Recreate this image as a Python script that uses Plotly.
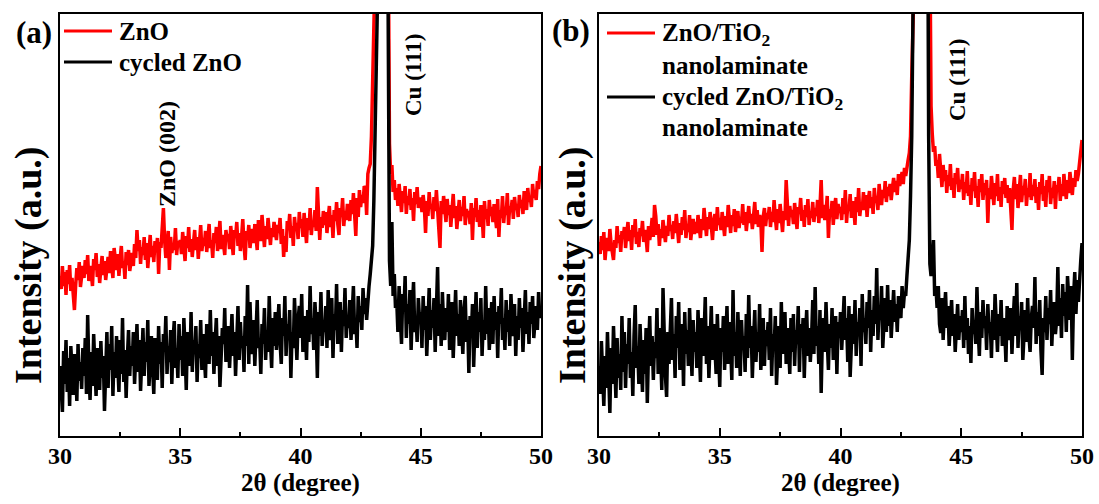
import numpy as np
import plotly.graph_objects as go

W, H = 1099, 504

# 2-theta grid (0.05 degree steps, 30-50)
theta = np.round(30 + 0.05 * np.arange(401), 2)

# Intensities (arbitrary units), one row per degree
zno = [
    160, 147, 170, 150, 164, 141, 166, 152, 171, 145, 158, 139, 126, 150, 168, 156, 174, 149, 163, 170,
    158, 176, 162, 181, 155, 170, 164, 150, 177, 166, 183, 159, 172, 153, 168, 180, 161, 175, 156, 171,
    179, 163, 185, 170, 158, 188, 174, 166, 182, 160, 177, 190, 168, 175, 157, 184, 171, 186, 165, 178,
    183, 170, 192, 178, 206, 185, 196, 172, 189, 181, 199, 176, 193, 168, 186, 201, 179, 190, 174, 195,
    184, 198, 162, 194, 188, 203, 228, 196, 178, 190, 205, 166, 199, 183, 192, 186, 208, 181, 195, 189,
    196, 182, 204, 190, 175, 200, 188, 209, 184, 197, 179, 193, 206, 186, 199, 177, 192, 211, 185, 198,
    190, 205, 184, 199, 212, 188, 196, 178, 203, 193, 209, 185, 198, 215, 187, 201, 192, 181, 206, 195,
    202, 187, 210, 195, 181, 206, 198, 214, 190, 203, 185, 199, 217, 192, 176, 205, 196, 211, 188, 200,
    207, 193, 212, 199, 186, 216, 204, 195, 221, 200, 189, 210, 197, 218, 203, 191, 208, 199, 214, 202,
    196, 211, 203, 218, 192, 207, 179, 200, 184, 215, 206, 222, 198, 210, 190, 219, 205, 213, 197, 224,
    208, 217, 199, 223, 212, 193, 218, 206, 228, 201, 215, 209, 226, 205, 249, 213, 196, 219, 208, 225,
    211, 224, 203, 218, 230, 209, 221, 198, 226, 215, 234, 212, 201, 228, 219, 238, 210, 225, 216, 232,
    224, 215, 236, 222, 243, 227, 200, 238, 219, 246, 229, 241, 233, 250, 247, 221, 262, 268, 272, 300,
    420, 650, 900, 900, 900, 900, 900, 900, 900, 900, 900, 900, 700, 430, 292, 262, 271, 244, 256, 236,
    248, 230, 252, 238, 224, 245, 233, 250, 222, 240, 231, 247, 226, 238, 215, 244, 232, 249, 228, 236,
    238, 224, 241, 229, 203, 235, 220, 244, 227, 232, 217, 239, 225, 246, 230, 214, 188, 235, 222, 240,
    228, 214, 237, 221, 231, 209, 226, 242, 218, 230, 207, 224, 236, 215, 229, 220, 240, 211, 227, 219,
    225, 212, 233, 196, 228, 219, 238, 214, 226, 209, 231, 222, 198, 235, 217, 227, 210, 236, 220, 229,
    214, 232, 222, 208, 237, 199, 226, 218, 240, 213, 229, 221, 243, 211, 230, 224, 236, 217, 239, 226,
    232, 219, 241, 228, 236, 222, 245, 231, 226, 248, 234, 240, 229, 252, 238, 246, 236, 255, 247, 262,
    270,
]

cycled_zno = [
    70, 38, 24, 85, 52, 96, 44, 78, 30, 90, 58, 41, 82, 66, 35, 92, 55, 74, 47, 88,
    60, 98, 42, 121, 68, 36, 84, 50, 102, 62, 40, 88, 74, 46, 95, 58, 80, 25, 70, 104,
    48, 92, 66, 110, 40, 84, 58, 100, 72, 44, 96, 62, 118, 54, 86, 38, 78, 106, 60, 90,
    70, 104, 52, 88, 112, 64, 96, 45, 82, 108, 60, 94, 74, 116, 50, 86, 100, 68, 42, 98,
    80, 56, 110, 72, 94, 48, 102, 84, 120, 62, 90, 74, 106, 52, 96, 115, 68, 88, 58, 112,
    76, 100, 60, 118, 86, 46, 104, 90, 70, 124, 64, 96, 82, 110, 54, 92, 78, 116, 66, 102,
    84, 58, 112, 96, 72, 126, 80, 104, 62, 94, 118, 70, 100, 49, 86, 108, 92, 128, 74, 98,
    110, 68, 96, 122, 80, 104, 60, 92, 130, 76, 114, 88, 100, 64, 120, 90, 151, 72, 134, 94,
    82, 116, 70, 104, 136, 88, 98, 62, 112, 92, 128, 76, 106, 84, 140, 96, 68, 118, 90, 124,
    86, 110, 132, 94, 72, 118, 100, 140, 80, 112, 96, 126, 58, 104, 88, 138, 102, 76, 116, 130,
    98, 142, 84, 120, 108, 76, 126, 94, 150, 102, 118, 86, 134, 112, 58, 124, 100, 144, 90, 116,
    104, 130, 88, 146, 112, 96, 138, 78, 122, 106, 152, 92, 118, 134, 84, 126, 110, 148, 98, 120,
    108, 136, 96, 124, 150, 102, 118, 88, 140, 114, 130, 106, 148, 122, 138, 116, 142, 150, 162, 175,
    190, 235, 330, 560, 900, 900, 900, 900, 900, 900, 900, 900, 620, 360, 175, 150, 214, 140, 162, 128,
    136, 104, 150, 118, 92, 142, 124, 160, 98, 132, 112, 146, 86, 128, 154, 104, 120, 94, 138, 116,
    124, 88, 140, 106, 130, 80, 118, 148, 96, 126, 108, 138, 84, 120, 169, 100, 132, 90, 144, 112,
    96, 128, 104, 142, 86, 118, 134, 78, 112, 146, 100, 122, 90, 136, 108, 82, 126, 140, 94, 116,
    63, 120, 98, 132, 69, 110, 144, 88, 124, 104, 138, 80, 116, 96, 150, 102, 128, 86, 118, 134,
    92, 140, 106, 124, 78, 130, 112, 148, 96, 118, 86, 136, 104, 126, 90, 142, 114, 100, 132, 80,
    120, 96, 138, 108, 128, 84, 116, 146, 102, 124, 92, 134, 112, 140, 98, 122, 130, 106, 144, 118,
    126,
]

nanolaminate = [
    194, 182, 200, 186, 204, 176, 191, 198, 185, 207, 192, 180, 176, 196, 188, 210, 193, 201, 184, 205,
    197, 209, 188, 203, 214, 195, 206, 186, 211, 199, 217, 192, 204, 189, 208, 200, 215, 194, 206, 198,
    184, 210, 196, 205, 218, 199, 231, 220, 201, 212, 190, 207, 198, 216, 203, 194, 210, 200, 221, 205,
    211, 197, 215, 203, 222, 208, 193, 213, 201, 219, 206, 226, 198, 212, 204, 221, 196, 209, 217, 202,
    214, 203, 221, 209, 198, 217, 206, 228, 212, 200, 219, 207, 224, 210, 196, 215, 222, 205, 229, 211,
    218, 206, 224, 212, 200, 220, 209, 231, 215, 203, 221, 210, 227, 204, 217, 225, 208, 219, 213, 232,
    211, 224, 205, 220, 230, 213, 222, 207, 218, 234, 212, 226, 209, 221, 215, 184, 219, 228, 210, 223,
    217, 229, 209, 224, 214, 236, 219, 206, 227, 213, 232, 218, 204, 225, 216, 256, 221, 210, 230, 219,
    226, 212, 233, 218, 207, 229, 222, 238, 215, 226, 209, 231, 219, 237, 211, 224, 218, 234, 214, 228,
    220, 236, 213, 229, 256, 218, 231, 216, 224, 240, 198, 227, 219, 235, 211, 229, 238, 217, 232, 223,
    229, 216, 238, 222, 246, 213, 231, 225, 242, 218, 235, 228, 211, 239, 224, 248, 220, 233, 226, 244,
    226, 241, 219, 236, 245, 228, 239, 222, 248, 233, 240, 226, 252, 237, 231, 246, 238, 255, 234, 249,
    240, 252, 236, 248, 258, 244, 255, 241, 262, 250, 257, 264, 252, 268, 260, 272, 276, 283, 300, 360,
    500, 750, 900, 900, 900, 900, 900, 900, 900, 900, 900, 900, 900, 760, 500, 330, 302, 284, 290, 270,
    276, 258, 282, 262, 249, 271, 255, 266, 243, 261, 250, 272, 246, 258, 238, 263, 252, 268, 244, 256,
    247, 262, 236, 254, 243, 265, 240, 251, 231, 258, 245, 264, 238, 250, 229, 257, 244, 262, 236, 253,
    241, 256, 213, 248, 237, 260, 244, 231, 253, 240, 262, 235, 249, 229, 255, 242, 258, 238, 251, 233,
    248, 232, 206, 246, 259, 237, 252, 228, 245, 261, 234, 250, 241, 257, 230, 248, 239, 263, 236, 251,
    240, 257, 233, 249, 226, 254, 242, 262, 235, 250, 229, 256, 244, 260, 232, 248, 238, 255, 227, 251,
    246, 259, 235, 252, 240, 262, 248, 237, 256, 243, 264, 250, 241, 258, 249, 266, 255, 262, 272, 285,
    296,
]

cycled_nanolaminate = [
    70, 42, 95, 56, 30, 80, 48, 104, 62, 23, 88, 52, 110, 66, 38, 98, 58, 82, 46, 120,
    64, 104, 48, 92, 72, 118, 58, 84, 40, 100, 131, 68, 90, 52, 112, 76, 44, 96, 62, 108,
    33, 86, 120, 70, 100, 56, 94, 78, 128, 62, 108, 84, 46, 148, 90, 60, 39, 104, 72, 116,
    138, 76, 102, 58, 120, 88, 134, 66, 96, 112, 50, 124, 82, 106, 70, 128, 92, 60, 116, 84,
    104, 68, 126, 90, 54, 118, 80, 100, 139, 72, 110, 58, 96, 130, 76, 112, 88, 62, 122, 94,
    49, 108, 84, 120, 66, 98, 130, 72, 114, 90, 56, 146, 80, 104, 68, 124, 92, 60, 116, 86,
    100, 64, 122, 78, 141, 88, 110, 58, 96, 126, 74, 104, 84, 132, 66, 98, 118, 70, 106, 90,
    114, 76, 128, 60, 102, 86, 120, 51, 94, 110, 68, 134, 82, 100, 124, 72, 108, 90, 62, 118,
    84, 122, 70, 106, 92, 130, 64, 112, 88, 118, 58, 100, 126, 80, 108, 74, 96, 136, 82, 149,
    90, 110, 72, 126, 43, 100, 118, 84, 134, 96, 66, 112, 88, 128, 76, 104, 120, 62, 114, 98,
    124, 86, 110, 140, 96, 118, 74, 130, 59, 106, 122, 92, 136, 80, 114, 100, 128, 70, 142, 104,
    118, 92, 134, 108, 146, 84, 126, 100, 140, 112, 168, 96, 130, 116, 150, 88, 124, 138, 104, 151,
    110, 136, 98, 128, 146, 114, 132, 104, 140, 122, 118, 150, 128, 144, 140, 160, 175, 196, 240, 300,
    420, 650, 900, 900, 900, 900, 900, 900, 900, 900, 900, 900, 520, 300, 172, 160, 176, 196, 140, 150,
    128, 150, 112, 103, 138, 96, 124, 144, 108, 130, 90, 118, 136, 100, 122, 84, 112, 132, 96, 120,
    104, 126, 88, 140, 96, 118, 82, 110, 73, 128, 102, 116, 92, 149, 106, 80, 124, 98, 136, 108,
    120, 86, 132, 104, 114, 78, 126, 96, 142, 110, 84, 122, 100, 136, 90, 118, 106, 74, 130, 112,
    96, 128, 82, 116, 140, 100, 153, 88, 120, 106, 134, 76, 112, 126, 94, 138, 102, 84, 118, 130,
    108, 159, 92, 124, 100, 136, 86, 61, 118, 104, 140, 96, 128, 112, 146, 90, 122, 134, 102, 116,
    169, 110, 138, 98, 152, 120, 144, 104, 160, 126, 116, 150, 76, 138, 164, 122, 156, 134, 162, 176,
    193,
]

for s in (zno, cycled_zno, nanolaminate, cycled_nanolaminate):
    assert len(s) == len(theta), len(s)

x_ticks = [30, 35, 40, 45, 50]
x_minor = [32.5, 37.5, 42.5, 47.5]

RED = "#ff0000"
BLACK = "#000000"
FONT = "Liberation Serif"
LW = 3.5


def fx(p):
    return p / W


def fy(p):
    return 1 - p / H


def bold(size):
    return dict(family=FONT, size=size, color=BLACK, weight="bold")


fig = go.Figure()
fig.add_trace(go.Scatter(x=theta, y=zno, mode="lines", name="ZnO",
                         line=dict(color=RED, width=LW), xaxis="x", yaxis="y", showlegend=False))
fig.add_trace(go.Scatter(x=theta, y=cycled_zno, mode="lines", name="cycled ZnO",
                         line=dict(color=BLACK, width=LW), xaxis="x", yaxis="y", showlegend=False))
fig.add_trace(go.Scatter(x=theta, y=nanolaminate, mode="lines", name="ZnO/TiO2 nanolaminate",
                         line=dict(color=RED, width=LW), xaxis="x2", yaxis="y2", showlegend=False))
fig.add_trace(go.Scatter(x=theta, y=cycled_nanolaminate, mode="lines", name="cycled ZnO/TiO2 nanolaminate",
                         line=dict(color=BLACK, width=LW), xaxis="x2", yaxis="y2", showlegend=False))

ydom = [fy(436), fy(13.5)]

xcommon = dict(
    range=[30, 50], tickvals=x_ticks, ticktext=[str(v) for v in x_ticks],
    ticks="inside", ticklen=8, tickwidth=2, tickcolor=BLACK,
    minor=dict(tickvals=x_minor, ticks="inside", ticklen=4, tickwidth=2, tickcolor=BLACK),
    showline=True, linecolor=BLACK, linewidth=2, mirror=True,
    showgrid=False, zeroline=False, automargin=False,
    ticklabelstandoff=-3,
    tickfont=bold(24),
    title=dict(text="2θ (degree)", font=bold(25), standoff=0),
)
ycommon = dict(
    range=[0, 422.5], domain=ydom, showticklabels=False, ticks="",
    showline=True, linecolor=BLACK, linewidth=2, mirror=True,
    showgrid=False, zeroline=False, automargin=False,
)

fig.update_layout(
    width=W, height=H, autosize=False,
    margin=dict(l=0, r=0, t=0, b=0, pad=0, autoexpand=False),
    paper_bgcolor="white", plot_bgcolor="white",
    showlegend=False,
    xaxis=dict(domain=[fx(60), fx(541)], anchor="y", **xcommon),
    yaxis=dict(anchor="x", **ycommon),
    xaxis2=dict(domain=[fx(599), fx(1082)], anchor="y2", **xcommon),
    yaxis2=dict(anchor="x2", **ycommon),
)

annotations = [
    dict(text="(a)", x=fx(34), y=fy(32), font=bold(31)),
    dict(text="(b)", x=fx(571), y=fy(30), font=bold(31)),
    dict(text="Intensity (a.u.)", x=fx(28), y=fy(265), textangle=-90, font=bold(38)),
    dict(text="Intensity (a.u.)", x=fx(572), y=fy(265), textangle=-90, font=bold(38)),
    dict(text="Cu (111)", x=fx(413), y=fy(75), textangle=-90, font=bold(23)),
    dict(text="Cu (111)", x=fx(957), y=fy(80), textangle=-90, font=bold(23)),
    dict(text="ZnO (002)", x=fx(167), y=fy(154), textangle=-90, font=bold(24)),
    dict(text="ZnO", x=fx(117), y=fy(31), xanchor="left", font=bold(25)),
    dict(text="cycled ZnO", x=fx(117), y=fy(62), xanchor="left", font=bold(25)),
    dict(text="ZnO/TiO<sub>2</sub>", x=fx(660), y=fy(35), xanchor="left", font=bold(25)),
    dict(text="nanolaminate", x=fx(660), y=fy(65), xanchor="left", font=bold(25)),
    dict(text="cycled ZnO/TiO<sub>2</sub>", x=fx(660), y=fy(99), xanchor="left", font=bold(25)),
    dict(text="nanolaminate", x=fx(660), y=fy(127), xanchor="left", font=bold(25)),
]
for a in annotations:
    a.setdefault("xanchor", "center")
    a.update(xref="paper", yref="paper", yanchor="middle", showarrow=False)
fig.update_layout(annotations=annotations)

legend_lines = [
    (64, 112, 31, RED), (64, 112, 62, BLACK),
    (607, 655, 33, RED), (607, 655, 97, BLACK),
]
fig.update_layout(shapes=[
    dict(type="line", xref="paper", yref="paper", x0=fx(a), x1=fx(b), y0=fy(y), y1=fy(y),
         line=dict(color=c, width=3))
    for a, b, y, c in legend_lines
])

fig.write_html("out.html")
